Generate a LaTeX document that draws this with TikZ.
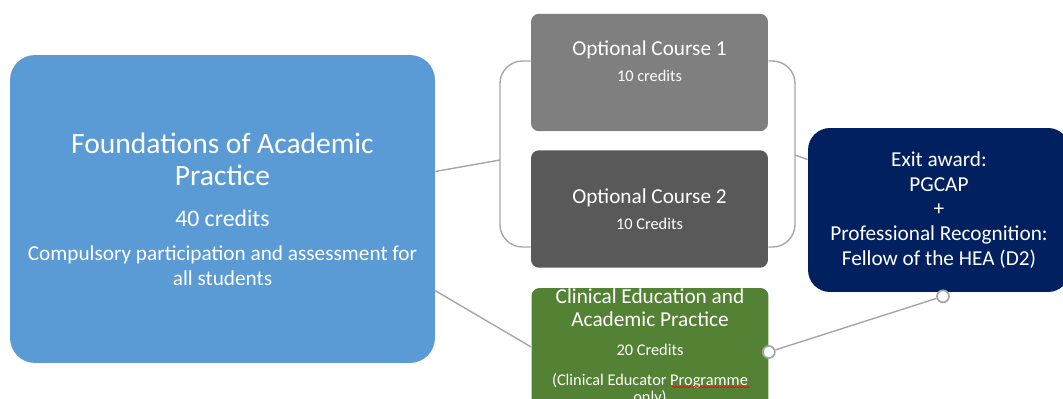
\documentclass[tikz,border=0pt]{standalone}
\usepackage{fontspec}
\setmainfont{Carlito}
\usetikzlibrary{positioning}
\usetikzlibrary{decorations.pathmorphing}
\definecolor{foundblue}{HTML}{5B9BD5}
\definecolor{optlight}{HTML}{7F7F7F}
\definecolor{optdark}{HTML}{595959}
\definecolor{clingreen}{HTML}{548235}
\definecolor{exitnavy}{HTML}{002060}
\definecolor{linkgray}{HTML}{A6A6A6}
\newcommand{\bigtxt}{\fontsize{16.8}{18.2}\selectfont}
\newcommand{\midtxt}{\fontsize{13.5}{15}\selectfont}
\newcommand{\regtxt}{\fontsize{12.1}{14}\selectfont}
\newcommand{\smalltxt}{\fontsize{9.3}{11}\selectfont}

\begin{document}
\begin{tikzpicture}[x=0.02cm, y=-0.02cm, box/.style={draw=none, text=white, align=center, inner sep=0pt, font=\regtxt}, bigbox/.style={box, rounded corners=0.5cm, minimum width=8.5cm, minimum height=6.16cm}, optbox/.style={box, rounded corners=0.16cm, minimum width=4.74cm, minimum height=2.35cm}, exitbox/.style={box, rounded corners=0.44cm, minimum width=5.24cm, minimum height=3.28cm}, link/.style={draw=linkgray, line width=0.8pt}, dot/.style={circle, draw=linkgray, fill=white, line width=1pt, inner sep=0pt, minimum size=0.24cm}]
    \useasboundingbox (0,0) rectangle (1063,399);

    %Nodes
    \node[bigbox, fill=foundblue](found) at (222.5,209){\bigtxt Foundations of Academic\\[4.5pt]\bigtxt Practice\\[9.4pt]\midtxt 40 credits\\[5.3pt]Compulsory participation and assessment for\\all students};
    \node[optbox, fill=optlight](opt1) at (649.5,72.5){Optional Course 1\\[0.7pt]\smalltxt 10 credits\\[-1pt]\mbox{}};
    \node[optbox, fill=optdark](opt2) at (649.5,209){Optional Course 2\\[0.7pt]\smalltxt 10 Credits};
    \node[optbox, fill=clingreen, minimum height=2.36cm](clin) at (650,347){Clinical Education and\\[-0.6pt]Academic Practice\\[2.3pt]\smalltxt 20 Credits\\[2.8pt]\smalltxt (Clinical Educator Programme\\[-4pt]\smalltxt only)};
    \node[exitbox, fill=exitnavy](exit) at (939,210){Exit award:\\PGCAP\\+\\Professional Recognition:\\Fellow of the HEA (D2)};
    \coordinate (bracketL) at (500,160);
    \coordinate (bracketR) at (795,155);

    %Lines
    \draw[link, rounded corners=0.45cm] ([yshift=0.23cm]opt1.west) -| (bracketL) |- ([yshift=-0.76cm]opt2.west);
    \draw[link, rounded corners=0.45cm] ([yshift=0.23cm]opt1.east) -| (bracketR) |- ([yshift=-0.76cm]opt2.east);
    \draw[link] (found.10) -- (bracketL);
    \draw[link] (bracketR) -- (exit.159);
    \draw[link] (found.-21) -- (clin.west);
    \node[dot](clindot) at ([yshift=-0.1cm]clin.east){};
    \node[dot](exitdot) at ([xshift=0.08cm, yshift=-0.08cm]exit.south){};
    \draw[link] (clindot) -- (exitdot);
    \draw[red, line width=0.4pt, decorate, decoration={snake, amplitude=0.35pt, segment length=2pt}] (672,387) -- (750,387);

\end{tikzpicture}
\end{document}
